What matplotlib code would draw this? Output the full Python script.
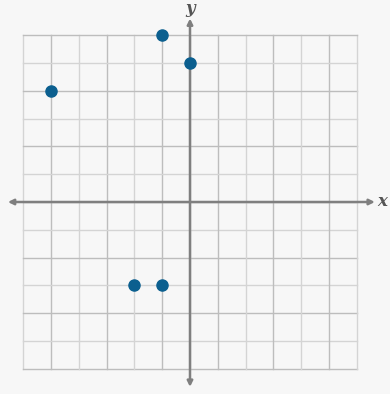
import matplotlib.pyplot as plt

# puntos del plano
xs = [-5, -1, 0, -2, -1]
ys = [4, 6, 5, -3, -3]

ticks = list(range(-6, 7))

fig = plt.figure(figsize=(3.9, 3.94), dpi=100, facecolor="#f7f7f7")
ax = fig.add_axes([0, 0, 1, 1])
ax.set_facecolor("#f7f7f7")
ax.set_xlim(-190 / 27.8, 200 / 27.8)
ax.set_ylim(-192 / 27.8, 202 / 27.8)
ax.axis("off")

# cuadricula
for t in ticks:
    cv = "#bdbdbd" if t % 2 else "#d4d4d4"
    ch = "#bdbdbd" if t % 2 == 0 else "#d4d4d4"
    ax.plot([t, t], [-6, 6], color=cv, lw=1, zorder=1)
    ax.plot([-6, 6], [t, t], color=ch, lw=1, zorder=1)

# ejes con flechas
flecha = dict(arrowstyle="<|-|>", color="#7f7f7f", lw=1.8, mutation_scale=8, shrinkA=0, shrinkB=0)
ax.annotate("", xy=(6.65, 0), xytext=(-6.55, 0), arrowprops=flecha, zorder=2)
ax.annotate("", xy=(0, 6.6), xytext=(0, -6.65), arrowprops=flecha, zorder=2)
ax.text(6.9, 0, "x", fontsize=12, fontstyle="italic", fontweight="bold", family="DejaVu Serif",
        color="#555555", ha="center", va="center")
ax.text(0, 6.95, "y", fontsize=12, fontstyle="italic", fontweight="bold", family="DejaVu Serif",
        color="#555555", ha="center", va="center")

ax.plot(xs, ys, "o", color="#0b5f8f", markersize=8, zorder=3)

fig.savefig("out.png", dpi=100, facecolor="#f7f7f7")
